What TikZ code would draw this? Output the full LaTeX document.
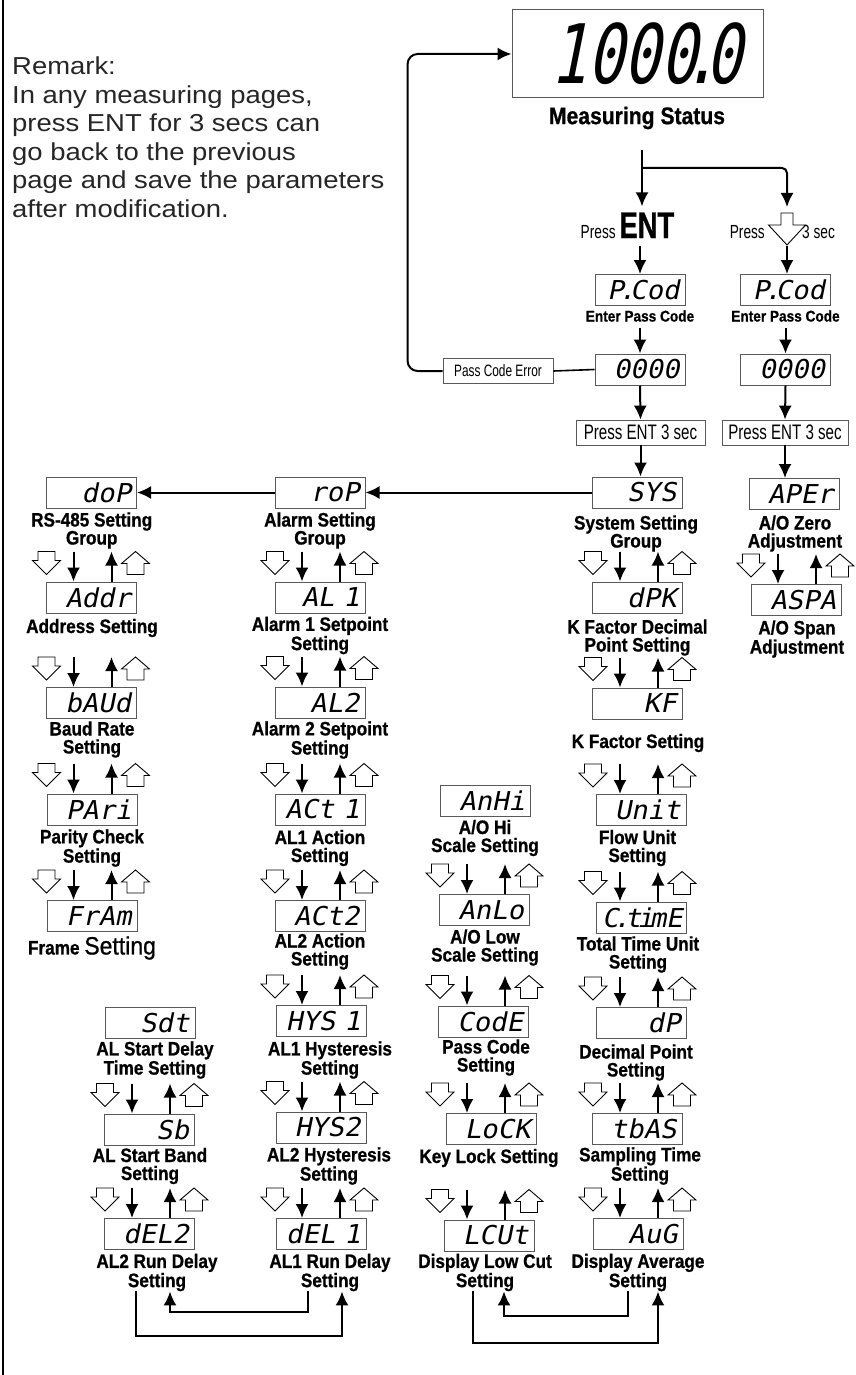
\documentclass[tikz,border=0pt]{standalone}
\usepackage{fontspec}
\setmainfont{Liberation Sans}
\newfontfamily\labfont{Liberation Sans Bold}[FakeStretch=0.88,FakeBold=0.8]
\newfontfamily\setfont{Liberation Sans}[FakeStretch=0.92,FakeBold=0.8]
\newfontfamily\cndfont{Liberation Sans}[FakeStretch=0.72]
\newfontfamily\entfont{Liberation Sans Bold}[FakeStretch=0.74,FakeBold=0.8]
\newfontfamily\remfont{Liberation Sans}[FakeStretch=1.12]
\newfontfamily\lcdfont{DejaVu Sans Mono}[FakeSlant=0.2,FakeStretch=1.05]
\newfontfamily\dispfont{DejaVu Sans Mono}[FakeSlant=0.2,FakeStretch=0.74]
\usetikzlibrary{arrows.meta,calc}

\newcommand\sdot{\kern-5pt.\kern-5pt}
% four key arrows above a box: #1 column axis, #2 lower box
\newcommand\navrow[2]{%
  \coordinate (nv) at (#2.north -| #1);
  \draw[flow] ($(nv)+(-18,-30)$) -- ($(nv)+(-18,0)$);
  \draw[flow] ($(nv)+(20,0)$) -- ($(nv)+(20,-30)$);
  \pic at ($(nv)+(-45,-30)$) {hdown};
  \pic at ($(nv)+(44,-30)$) {hup};
}

\tikzset{
  lcd/.style={draw=black!65, line width=1pt, minimum height=31pt, text width=79pt,
    inner xsep=5.5pt, inner ysep=0pt, align=right, font=\lcdfont\fontsize{26}{26}\selectfont},
  lbl/.style={inner sep=0pt, align=center, font=\labfont\fontsize{19.5}{18}\selectfont},
  keybox/.style={draw=black!65, line width=0.8pt, inner sep=0pt, minimum height=25pt,
    font=\cndfont\fontsize{21}{21}\selectfont},
  flow/.style={line width=2pt, -{Latex[length=14pt,width=13pt]}},
  hdown/.pic={\draw[line width=0.9pt, fill=white] (-8.5pt,0pt) -- (8.5pt,0pt) -- (8.5pt,-9pt)
    -- (14pt,-9pt) -- (0pt,-23pt) -- (-14pt,-9pt) -- (-8.5pt,-9pt) -- cycle;},
  hup/.pic={\draw[line width=0.9pt, fill=white] (0pt,0pt) -- (14pt,-12pt) -- (8.5pt,-12pt)
    -- (8.5pt,-23pt) -- (-8.5pt,-23pt) -- (-8.5pt,-12pt) -- (-14pt,-12pt) -- cycle;},
  hbig/.pic={\draw[line width=0.9pt, fill=white] (-6pt,0pt) -- (6pt,0pt) -- (6pt,-12pt)
    -- (18.5pt,-12pt) -- (0pt,-32pt) -- (-18.5pt,-12pt) -- (-6pt,-12pt) -- cycle;}
}

\begin{document}
\begin{tikzpicture}[x=1pt,y=-1pt]
\useasboundingbox (0,0) rectangle (856,1375);
\fill[white] (0,0) rectangle (856,1375);
\draw[line width=2pt] (3,0) -- (3,1375);

% remark
\node[anchor=north west, align=left, inner sep=0pt, text=black!85,
  font=\remfont\fontsize{24.5}{28.5}\selectfont] (remark) at (12,57)
  {Remark:\\In any measuring pages,\\press ENT for 3 secs can\\go back to the previous\\page and save the parameters\\after modification.};

% measuring status and pass code
\node[lcd, minimum height=88pt, text width=209pt, inner xsep=21pt,
  font=\dispfont\fontsize{82}{82}\selectfont] (meas) at (637.5,54) {1000\kern-14pt.\kern-14pt0};
\node[lbl, font=\labfont\fontsize{24}{24}\selectfont] (measL) at (637,118) {Measuring Status};
\coordinate (split) at (642,150);
\coordinate (fork) at (642,168);
\coordinate (hollowTop) at (787,213);

\node[anchor=base, inner sep=0pt, font=\cndfont\fontsize{19}{19}\selectfont] (pressEnt) at (627.5,238)
  {Press {\entfont\fontsize{37}{37}\selectfont ENT}};
\node[anchor=base east, inner sep=0pt, font=\cndfont\fontsize{19}{19}\selectfont] (pressDn) at (765,238) {Press};
\node[anchor=base west, inner sep=0pt, font=\cndfont\fontsize{19}{19}\selectfont] (sec3) at (802,238) {3 sec};
\pic at (hollowTop) {hbig};

\node[lcd] (pcodA) at (640,290) {P\sdot Cod};
\node[lbl, font=\labfont\fontsize{15.5}{15.5}\selectfont] (pcodAL) at (640,316) {Enter Pass Code};
\node[lcd] (pcodB) at (785.5,290) {P\sdot Cod};
\node[lbl, font=\labfont\fontsize{15.5}{15.5}\selectfont] (pcodBL) at (785.5,316) {Enter Pass Code};
\node[lcd] (codeA) at (640,369.5) {0000};
\node[lcd] (codeB) at (785.5,369.5) {0000};
\node[keybox, minimum width=110pt, font=\cndfont\fontsize{16.5}{16.5}\selectfont] (err) at (498,371) {Pass Code Error};
\node[keybox, minimum width=129pt] (entA) at (640.5,432.5) {Press ENT 3 sec};
\node[keybox, minimum width=126pt] (entB) at (785,432.5) {Press ENT 3 sec};

\draw[flow] (split) -- ($(pressEnt.north -| split)+(0,-6)$);
\draw[flow, rounded corners=5pt] (fork) -| ($(hollowTop)+(0,-6)$);
\draw[flow] ($(pressEnt.south -| pcodA)+(0,8)$) -- (pcodA.north);
\draw[flow] ($(hollowTop)+(0,33)$) -- (pcodB.north -| hollowTop);
\draw[flow] ($(pcodAL.south -| codeA)+(0,6)$) -- (codeA.north);
\draw[flow] ($(pcodBL.south -| codeB)+(0,6)$) -- (codeB.north);
\draw[line width=1.6pt] (codeA.west) -- (err.east);
\draw[flow, rounded corners=10pt] (err.west) -- ++(-35,0) |- (meas.west);
\draw[flow] (codeA.south) -- (entA.north);
\draw[flow] (codeB.south) -- (entB.north);

% column axes
\coordinate (colD) at (91.5,0);
\coordinate (colT) at (150,0);
\coordinate (colR) at (320,0);
\coordinate (colH) at (485,0);
\coordinate (colS) at (638,0);
\coordinate (colA) at (796,0);

% system setting group
\node[lcd] (sys) at (637,492.5) {SYS};
\node[lbl] (sysL) at (636,533.5) {System Setting\\Group};
\node[lcd] (dpk) at (637,597.5) {dPK};
\node[lbl] (dpkL) at (637.5,637.5) {K Factor Decimal\\Point Setting};
\node[lcd] (kf) at (637,703.5) {KF};
\node[lbl] (kfL) at (638,743) {K Factor Setting};
\node[lcd] (unit) at (641,810) {Unit};
\node[lbl] (unitL) at (637.5,848) {Flow Unit\\Setting};
\node[lcd] (ctime) at (641.5,917.5) {C\sdot t\kern-4pt i\kern-4pt mE};
\node[lbl] (ctimeL) at (638,954.5) {Total Time Unit\\Setting};
\node[lcd] (dp) at (641,1023) {dP};
\node[lbl] (dpL) at (636,1062.5) {Decimal Point\\Setting};
\node[lcd] (tbas) at (637,1129) {tbAS};
\node[lbl] (tbasL) at (640,1166) {Sampling Time\\Setting};
\node[lcd] (aug) at (638,1234) {AuG};
\node[lbl] (augL) at (638,1272.5) {Display Average\\Setting};

% analog output
\node[lcd] (aper) at (794,494) {APEr};
\node[lbl] (aperL) at (795,533.5) {A/O Zero\\Adjustment};
\node[lcd] (aspa) at (796.5,600) {ASPA};
\node[lbl] (aspaL) at (797,639) {A/O Span\\Adjustment};
\node[lcd] (anhi) at (485.5,801) {AnHi};
\node[lbl] (anhiL) at (485,838) {A/O Hi\\Scale Setting};
\node[lcd] (anlo) at (484.5,910) {AnLo};
\node[lbl] (anloL) at (485,947.5) {A/O Low\\Scale Setting};
\node[lcd] (code) at (483.5,1021.5) {CodE};
\node[lbl] (codeL) at (486,1057.5) {Pass Code\\Setting};
\node[lcd] (lock) at (491,1129) {LoCK};
\node[lbl] (lockL) at (489,1158) {Key Lock Setting};
\node[lcd] (lcut) at (489,1235.5) {LCUt};
\node[lbl] (lcutL) at (485,1272.5) {Display Low Cut\\Setting};

% alarm setting group
\node[lcd] (rop) at (320,492.5) {roP};
\node[lbl] (ropL) at (320,530.5) {Alarm Setting\\Group};
\node[lcd] (al1) at (320,597.5) {AL 1};
\node[lbl] (al1L) at (320,635.5) {Alarm 1 Setpoint\\Setting};
\node[lcd] (al2) at (320,702.5) {AL2};
\node[lbl] (al2L) at (320,740) {Alarm 2 Setpoint\\Setting};
\node[lcd] (act1) at (320,809.5) {ACt 1};
\node[lbl] (act1L) at (320,848) {AL1 Action\\Setting};
\node[lcd] (act2) at (320,916) {ACt2};
\node[lbl] (act2L) at (320,951.5) {AL2 Action\\Setting};
\node[lcd] (hys1) at (321,1021) {HYS 1};
\node[lbl] (hys1L) at (330,1060) {AL1 Hysteresis\\Setting};
\node[lcd] (hys2) at (321,1127.5) {HYS2};
\node[lbl] (hys2L) at (329,1166) {AL2 Hysteresis\\Setting};
\node[lcd] (del1) at (321,1234) {dEL 1};
\node[lbl] (del1L) at (330,1272.5) {AL1 Run Delay\\Setting};
\node[lcd] (sdt) at (150,1023) {Sdt};
\node[lbl] (sdtL) at (155,1060) {AL Start Delay\\Time Setting};
\node[lcd] (sb) at (149.5,1129.5) {Sb};
\node[lbl] (sbL) at (150,1166) {AL Start Band\\Setting};
\node[lcd] (del2) at (149.5,1234) {dEL2};
\node[lbl] (del2L) at (157,1272.5) {AL2 Run Delay\\Setting};

% RS-485 setting group
\node[lcd] (dop) at (91.5,492.5) {doP};
\node[lbl] (dopL) at (91.7,530.5) {RS-485 Setting\\Group};
\node[lcd] (addr) at (91.5,597.5) {Addr};
\node[lbl] (addrL) at (92,628) {Address Setting};
\node[lcd] (baud) at (91.5,703) {bAUd};
\node[lbl] (baudL) at (92,739.5) {Baud Rate\\Setting};
\node[lcd] (pari) at (92,809.5) {PAri};
\node[lbl] (pariL) at (92,848) {Parity Check\\Setting};
\node[lcd] (fram) at (92,916) {FrAm};
\node[lbl] (framL) at (92,948) {Frame {\setfont\fontsize{25}{25}\selectfont Setting}};

% group links
\draw[flow] (entA.south) -- (entA.south |- sys.north);
\draw[flow] (entB.south) -- (entB.south |- aper.north);
\draw[flow] (sys.west) -- (sys.west -| rop.east);
\draw[flow] (rop.west) -- (rop.west -| dop.east);

% key arrows
\foreach \b in {addr,baud,pari,fram} {\navrow{colD}{\b}}
\foreach \b in {al1,al2,act1,act2,hys1,hys2,del1} {\navrow{colR}{\b}}
\foreach \b in {dpk,kf,unit,ctime,dp,tbas,aug} {\navrow{colS}{\b}}
\foreach \b in {anlo,code,lock,lcut} {\navrow{colH}{\b}}
\foreach \b in {sb,del2} {\navrow{colT}{\b}}
\navrow{colA}{aspa}

% loops back
\draw[flow] ([xshift=-22pt]del1L.south) -- ++(0,21) -| ([xshift=13pt]del2L.south);
\draw[flow] ([xshift=-21pt]del2L.south) -- ++(0,45) -| ([xshift=12pt]del1L.south);
\draw[flow] ([xshift=-10pt]augL.south) -- ++(0,25) -| ([xshift=19pt]lcutL.south);
\draw[flow] ([xshift=-12pt]lcutL.south) -- ++(0,52) -| ([xshift=20pt]augL.south);
\end{tikzpicture}
\end{document}
